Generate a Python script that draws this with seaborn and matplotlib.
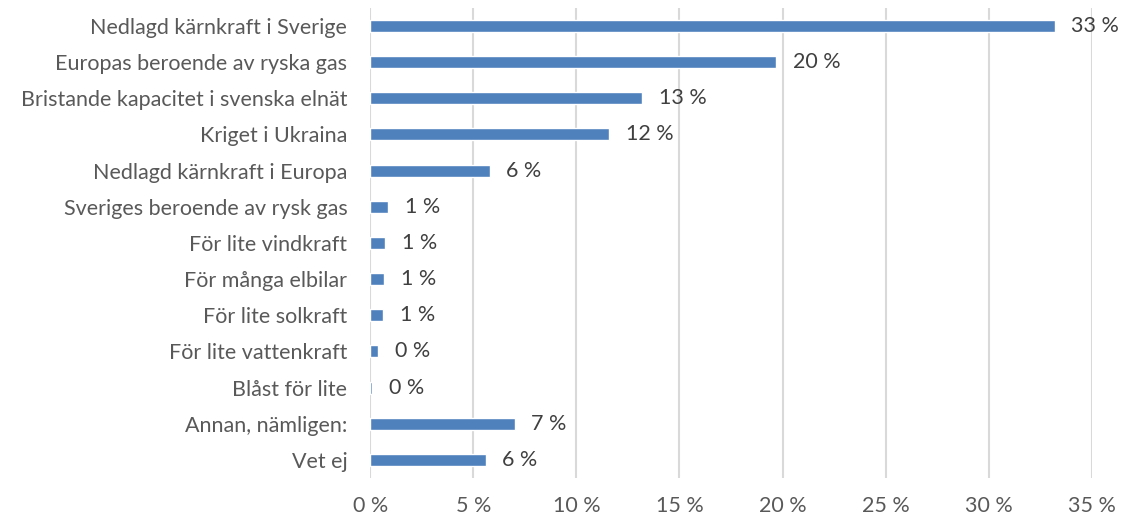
import matplotlib
matplotlib.use("Agg")
import matplotlib.pyplot as plt
import seaborn as sns
import pandas as pd

categories = [
    "Nedlagd kärnkraft i Sverige",
    "Europas beroende av ryska gas",
    "Bristande kapacitet i svenska elnät",
    "Kriget i Ukraina",
    "Nedlagd kärnkraft i Europa",
    "Sveriges beroende av rysk gas",
    "För lite vindkraft",
    "För många elbilar",
    "För lite solkraft",
    "För lite vattenkraft",
    "Blåst för lite",
    "Annan, nämligen:",
    "Vet ej",
]
values = [33.2, 19.7, 13.2, 11.6, 5.8, 0.87, 0.73, 0.68, 0.63, 0.39, 0.1, 7.0, 5.6]
xticks = [0, 5, 10, 15, 20, 25, 30, 35]

sns.set_theme(style="white")
plt.rcParams['font.family'] = ['Lato', 'DejaVu Sans']

df = pd.DataFrame({"cat": categories, "val": values})
fig = plt.figure(figsize=(11.22, 5.19), dpi=100)
ax = fig.add_axes([0.33, 0.079, 0.643, 0.906])

sns.barplot(data=df, x="val", y="cat", orient="h", color="#4f81bd",
            saturation=1, width=0.33, ax=ax)

ax.set_xlim(0, 35)
ax.set_ylim(len(categories) - 0.5, -0.5)
ax.set_xticks(xticks)
ax.set_xticklabels([f"{t} %" for t in xticks])
ax.set_xlabel("")
ax.set_ylabel("")
ax.grid(axis="x", color="#d9d9d9", linewidth=1.5)
ax.set_axisbelow(True)
for s in ax.spines.values():
    s.set_visible(False)
ax.tick_params(axis="both", length=0, labelsize=15.5, colors="#595959")
ax.tick_params(axis="y", pad=16.5)
ax.tick_params(axis="x", pad=13)

for i, v in enumerate(values):
    ax.annotate(f"{round(v):.0f} %", xy=(v, i), xytext=(12, 0),
                textcoords="offset points", va="center", ha="left",
                fontsize=15.5, color="#404040")

fig.savefig("out.png", dpi=100)
